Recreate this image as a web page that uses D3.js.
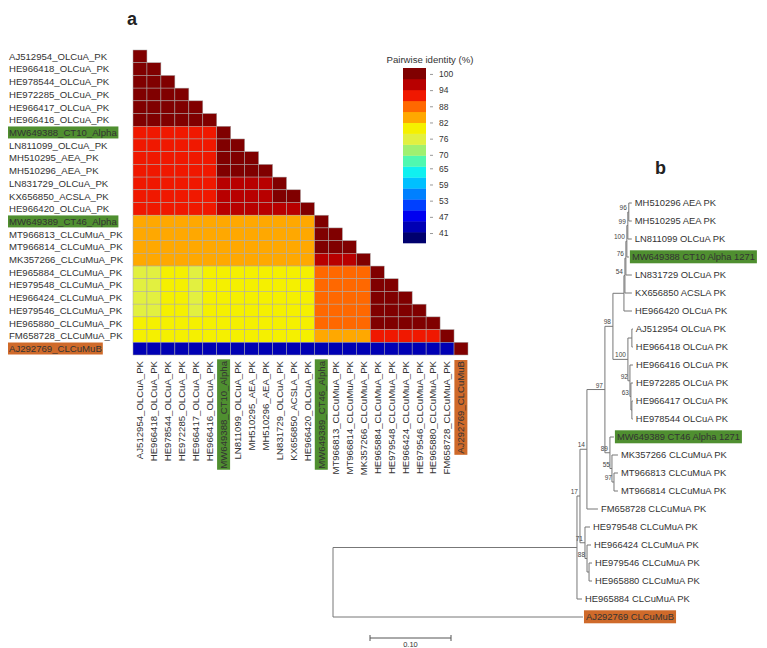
<!DOCTYPE html>
<html><head><meta charset="utf-8">
<script src="https://cdn.jsdelivr.net/npm/d3@7"></script>
<style>
body{margin:0;background:#fff}
svg{display:block;font-family:"Liberation Sans",Arial,sans-serif}
</style>
</head><body><svg id="c" width="767" height="648"></svg>
<script>
// ---------- DATA ----------
const seqLabels = [
  "AJ512954_OLCuA_PK","HE966418_OLCuA_PK","HE978544_OLCuA_PK","HE972285_OLCuA_PK",
  "HE966417_OLCuA_PK","HE966416_OLCuA_PK","MW649388_CT10_Alpha","LN811099_OLCuA_PK",
  "MH510295_AEA_PK","MH510296_AEA_PK","LN831729_OLCuA_PK","KX656850_ACSLA_PK",
  "HE966420_OLCuA_PK","MW649389_CT46_Alpha","MT966813_CLCuMuA_PK","MT966814_CLCuMuA_PK",
  "MK357266_CLCuMuA_PK","HE965884_CLCuMuA_PK","HE979548_CLCuMuA_PK","HE966424_CLCuMuA_PK",
  "HE979546_CLCuMuA_PK","HE965880_CLCuMuA_PK","FM658728_CLCuMuA_PK","AJ292769_CLCuMuB"
];
// lower-triangular pairwise identity (%) matrix, row i has i+1 values
const identityRows = [
  [100],
  [99,100],
  [99,99,100],
  [99,99,99,100],
  [99,99,99,99,100],
  [99,99,99,99,99,100],
  [92,92,92,92,92,92,100],
  [92,92,92,92,92,92,99,100],
  [92,92,92,92,92,92,99,99,100],
  [92,92,92,92,92,92,99,99,100,100],
  [92,92,92,92,92,92,98,98,98,98,100],
  [92,92,92,92,92,92,98,98,98,98,99,100],
  [91,91,91,91,91,91,96,96,96,96,96,96,100],
  [84,84,84,84,84,84,84,84,84,84,84,84,84,100],
  [84,84,84,84,84,84,84,84,84,84,84,84,84,99,100],
  [84,84,84,84,84,84,84,84,84,84,84,84,84,99,99,100],
  [84,84,84,84,84,84,84,84,84,84,84,84,84,98,98,98,100],
  [77,77,79,79,77,79,79,79,79,79,79,79,79,87,87,87,87,100],
  [77,77,79,79,77,79,79,79,79,79,79,79,79,87,87,87,87,99,100],
  [77,77,79,79,77,79,79,79,79,79,79,79,79,87,87,87,87,99,99,100],
  [77,77,79,79,77,79,79,79,79,79,79,79,79,87,87,87,87,99,99,99,100],
  [79,79,79,79,79,79,79,79,79,79,79,79,79,87,87,87,87,99,99,99,99,100],
  [80,80,80,80,80,80,80,80,80,80,80,80,80,83,83,83,83,91,91,91,91,91,100],
  [44,44,44,44,44,44,44,44,44,44,44,44,44,44,44,44,44,44,44,44,44,44,44,100]
];
const legendTitle = "Pairwise identity (%)";
const legendTicks = [100,94,88,82,76,70,65,59,53,47,41];
const legendDomain = [37.3, 102.2];
const bandColors = ["#00006e","#0000b4","#0000f0","#0040ff","#0080ff","#00c0ff","#10f0f0","#50f8b0",
                    "#a0f070","#e2f040","#f5f000","#ffa800","#ff6800","#f01800","#b80000","#800000"];
const greenLabels = ["MW649388_CT10_Alpha","MW649389_CT46_Alpha","MW649388 CT10 Alpha 1271","MW649389 CT46 Alpha 1271"];
const orangeLabels = ["AJ292769_CLCuMuB","AJ292769 CLCuMuB"];

// phylogenetic tree (branch lengths in substitutions/site, bs = bootstrap)
const tree = {name:"root", len:0, children:[
  {len:0.3012, children:[
    {len:0.0037, bs:"17", children:[
      {len:0.0086, bs:"14", children:[
        {len:0.0222, bs:"97", children:[
          {len:0.0099, bs:"98", children:[
            {len:0.0136, children:[
              {len:0.0012, bs:"54", children:[
                {len:0.0012, bs:"76", children:[
                  {len:0.0012, bs:"100", children:[
                    {len:0.0012, bs:"99", children:[
                      {len:0.0012, bs:"96", children:[
                        {name:"MH510296 AEA PK", len:0.0037},
                        {name:"MH510295 AEA PK", len:0.0037}]},
                      {name:"LN811099 OLCuA PK", len:0.0049}]},
                    {name:"MW649388 CT10 Alpha 1271", len:0.0025}]},
                  {name:"LN831729 OLCuA PK", len:0.0074}]},
                {name:"KX656850 ACSLA PK", len:0.0086}]},
              {name:"HE966420 OLCuA PK", len:0.0099}]},
            {len:0.0185, bs:"100", children:[
              {len:0.0049, children:[
                {name:"AJ512954 OLCuA PK", len:0.0012},
                {name:"HE966418 OLCuA PK", len:0.0012}]},
              {len:0.0025, bs:"92", children:[
                {name:"HE966416 OLCuA PK", len:0.0037},
                {len:0.0012, bs:"63", children:[
                  {name:"HE972285 OLCuA PK", len:0.0025},
                  {len:0.0012, children:[
                    {name:"HE966417 OLCuA PK", len:0.0012},
                    {name:"HE978544 OLCuA PK", len:0.0012}]}]}]}]}]},
          {len:0.0062, bs:"89", children:[
            {name:"MW649389 CT46 Alpha 1271", len:0.0049},
            {len:0.0025, bs:"55", children:[
              {name:"MK357266 CLCuMuA PK", len:0.0074},
              {len:0.0025, bs:"97", children:[
                {name:"MT966813 CLCuMuA PK", len:0.0049},
                {name:"MT966814 CLCuMuA PK", len:0.0049}]}]}]}]},
        {name:"FM658728 CLCuMuA PK", len:0.0136}]},
      {len:0.0062, bs:"71", children:[
        {name:"HE979548 CLCuMuA PK", len:0.0062},
        {len:0.0025, bs:"88", children:[
          {name:"HE966424 CLCuMuA PK", len:0.0049},
          {len:0.0025, children:[
            {name:"HE979546 CLCuMuA PK", len:0.0037},
            {name:"HE965880 CLCuMuA PK", len:0.0037}]}]}]}]},
    {name:"HE965884 CLCuMuA PK", len:0.0062}]},
  {name:"AJ292769 CLCuMuB", len:0.3086}]};
const scaleBarValue = 0.1;
const scaleBarLabel = "0.10";

// ---------- DRAW ----------
const svg = d3.select("#c");
const GREEN = "#4f8f30", ORANGE = "#cf6a2a", TXT = "#333";

function highlight(sel, fill, padX, padY){
  sel.each(function(d){
    const name = typeof d === "string" ? d : (d.data ? d.data.name : d);
    let f = null;
    if (greenLabels.includes(name)) f = GREEN;
    if (orangeLabels.includes(name)) f = ORANGE;
    if (!f) return;
    const b = this.getBBox();
    d3.select(this.parentNode).insert("rect", () => this)
      .attr("x", b.x - padX).attr("y", b.y - padY)
      .attr("width", b.width + 2*padX).attr("height", b.height + 2*padY)
      .attr("fill", f);
  });
}

// panel a
svg.append("text").attr("x",127).attr("y",25).attr("font-size",18).attr("font-weight","bold").attr("fill","#222").text("a");

const x = d3.scaleBand().domain(seqLabels).range([133, 468]);
const y = d3.scaleBand().domain(seqLabels).range([50, 355]);
const color = d3.scaleQuantize().domain(legendDomain).range(bandColors);

const cells = [];
identityRows.forEach((row, i) => row.forEach((v, j) => cells.push({r: seqLabels[i], c: seqLabels[j], v})));
svg.append("g").selectAll("rect").data(cells).join("rect")
  .attr("x", d => x(d.c)).attr("y", d => y(d.r))
  .attr("width", x.bandwidth()).attr("height", y.bandwidth())
  .attr("fill", d => color(d.v))
  .attr("stroke", "#a8a8a8").attr("stroke-width", 0.5);

// row labels
const rowG = svg.append("g");
rowG.selectAll("text").data(seqLabels).join("text")
  .attr("x", 9).attr("y", d => y(d) + y.bandwidth()/2).attr("dy","0.35em")
  .attr("font-size", 9.6).attr("fill", TXT).text(d => d);
rowG.selectAll("text").call(highlight, null, 1, 0.5);

// column labels
const colG = svg.append("g");
seqLabels.forEach(d => {
  const g = colG.append("g").attr("transform", `translate(${x(d) + x.bandwidth()/2},361) rotate(-90)`);
  g.append("text").attr("text-anchor","end").attr("dy","0.35em")
    .attr("font-size", 9.6).attr("fill", TXT).datum(d).text(d);
});
colG.selectAll("text").call(highlight, null, 1, 1);

// legend
const yL = d3.scaleLinear().domain(legendDomain).range([243, 68]);
const lg = svg.append("g");
lg.selectAll("rect").data(bandColors).join("rect")
  .attr("x", 403).attr("width", 23)
  .attr("y", c => yL(color.invertExtent(c)[1]))
  .attr("height", c => yL(color.invertExtent(c)[0]) - yL(color.invertExtent(c)[1]) + 0.3)
  .attr("fill", c => c);
const ax = lg.append("g").attr("transform","translate(430,0)")
  .call(d3.axisRight(yL).tickValues(legendTicks).tickSize(3).tickPadding(6));
ax.select(".domain").remove();
ax.selectAll("line").attr("stroke","#999");
ax.selectAll("text").attr("font-size", 8.5).attr("fill", TXT).attr("font-family","Liberation Sans, Arial, sans-serif");
lg.append("text").attr("x", 430).attr("y", 63).attr("text-anchor","middle")
  .attr("font-size", 9.6).attr("fill", TXT).text(legendTitle);

// panel b: tree
svg.append("text").attr("x",655).attr("y",174).attr("font-size",18).attr("font-weight","bold").attr("fill","#222").text("b");

const root = d3.hierarchy(tree);
const leafNames = root.leaves().map(l => l.data.name);
const yT = d3.scalePoint().domain(leafNames).range([203, 617]);
const xT = d3.scaleLinear().domain([0, scaleBarValue]).range([333, 414]);
root.eachBefore(n => { n.dist = (n.parent ? n.parent.dist : 0) + n.data.len; });
root.eachAfter(n => {
  n.px = xT(n.dist);
  n.py = n.children ? (n.children[0].py + n.children[n.children.length-1].py)/2 : yT(n.data.name);
});
const tg = svg.append("g").attr("stroke","#777").attr("stroke-width",1).attr("fill","none");
root.descendants().forEach(n => {
  if (n.parent) tg.append("line").attr("x1", n.parent.px).attr("x2", n.px).attr("y1", n.py).attr("y2", n.py);
  if (n.children) tg.append("line").attr("x1", n.px).attr("x2", n.px)
      .attr("y1", n.children[0].py).attr("y2", n.children[n.children.length-1].py);
});
const bsG = svg.append("g");
root.descendants().filter(n => n.data.bs).forEach(n => {
  bsG.append("text").attr("x", n.px - 2).attr("y", n.py - 2).attr("text-anchor","end")
    .attr("font-size", 6.5).attr("fill","#444").text(n.data.bs);
});
const tipG = svg.append("g");
tipG.selectAll("g").data(root.leaves()).join("g").append("text")
  .attr("x", d => d.px + 3).attr("y", d => d.py).attr("dy","0.35em")
  .attr("font-size", 9.4).attr("fill", TXT).text(d => d.data.name);
tipG.selectAll("text").call(highlight, null, 2, 1);

// scale bar
const sb = svg.append("g").attr("stroke","#555").attr("stroke-width",1);
const sbX = 370, sbLen = xT(scaleBarValue) - xT(0), sbY = 638;
sb.append("line").attr("x1", sbX).attr("x2", sbX + sbLen).attr("y1", sbY).attr("y2", sbY);
sb.append("line").attr("x1", sbX).attr("x2", sbX).attr("y1", sbY - 3).attr("y2", sbY + 3);
sb.append("line").attr("x1", sbX + sbLen).attr("x2", sbX + sbLen).attr("y1", sbY - 3).attr("y2", sbY + 3);
svg.append("text").attr("x", sbX + sbLen/2).attr("y", 647).attr("text-anchor","middle")
  .attr("font-size", 7.5).attr("fill", TXT).text(scaleBarLabel);
</script></body></html>
